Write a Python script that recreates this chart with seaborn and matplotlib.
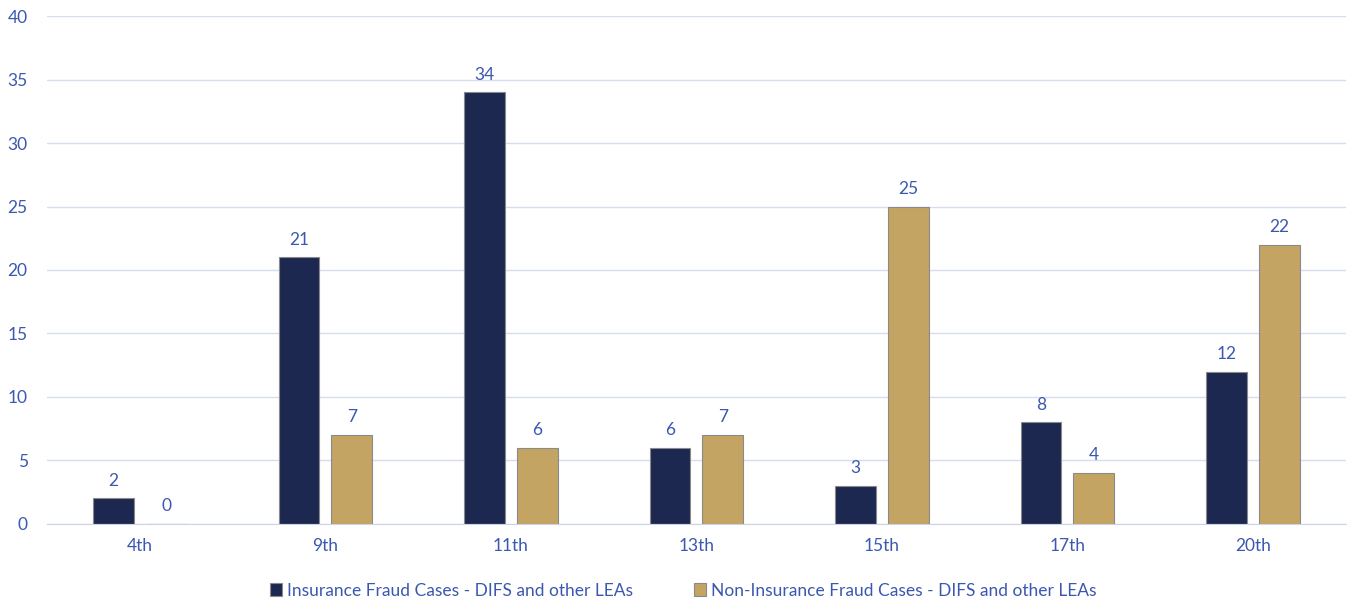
import numpy as np
import pandas as pd
import matplotlib.pyplot as plt
import seaborn as sns

districts = ['4th', '9th', '11th', '13th', '15th', '17th', '20th']
insurance = [2, 21, 34, 6, 3, 8, 12]
non_insurance = [0, 7, 6, 7, 25, 4, 22]
series = ['Insurance Fraud Cases - DIFS and other LEAs',
          'Non-Insurance Fraud Cases - DIFS and other LEAs']

df = pd.DataFrame({
    'district': districts * 2,
    'cases': insurance + non_insurance,
    'series': [series[0]] * len(districts) + [series[1]] * len(districts),
})

sns.set_style('white')
plt.rcParams['font.family'] = ['Lato', 'DejaVu Sans']
txt = '#3a58b0'
navy = '#1c2850'
gold = '#c3a462'

fig = plt.figure(figsize=(13.47, 6), dpi=100)
ax = fig.add_axes([0.035, 0.127, 0.964, 0.846])

sns.barplot(data=df, x='district', y='cases', hue='series', order=districts,
            hue_order=series, palette=[navy, gold], width=0.57, gap=0.23,
            edgecolor='#8a8a8a', linewidth=0.8, saturation=1, ax=ax, legend=True)

for c in ax.containers:
    ax.bar_label(c, padding=7, fontsize=12.5, color=txt)

ax.set_ylim(0, 40)
ax.set_xlim(-0.5, 6.5)
ax.set_yticks(range(0, 41, 5))
ax.yaxis.grid(True, color='#d7ddf0', linewidth=1)
ax.set_axisbelow(True)
ax.set_xlabel('')
ax.set_ylabel('')
for s in ['top', 'right', 'left']:
    ax.spines[s].set_visible(False)
ax.spines['bottom'].set_color('#ccd4ec')
ax.tick_params(axis='y', length=0, labelsize=12.5, labelcolor=txt, pad=14)
ax.tick_params(axis='x', which='major', length=0, labelsize=12.5, labelcolor=txt, pad=10)
ax.set_xticks(np.arange(-0.5, 7, 1), minor=True)
ax.tick_params(axis='x', which='minor', length=6, color='#ccd4ec', direction='out')

ax.legend(loc='upper center', bbox_to_anchor=(0.49, -0.085), ncol=2, frameon=False,
          fontsize=12.5, labelcolor=txt, handlelength=0.7, handleheight=0.7,
          handletextpad=0.3, columnspacing=3.5)

fig.savefig('out.png', dpi=100)
